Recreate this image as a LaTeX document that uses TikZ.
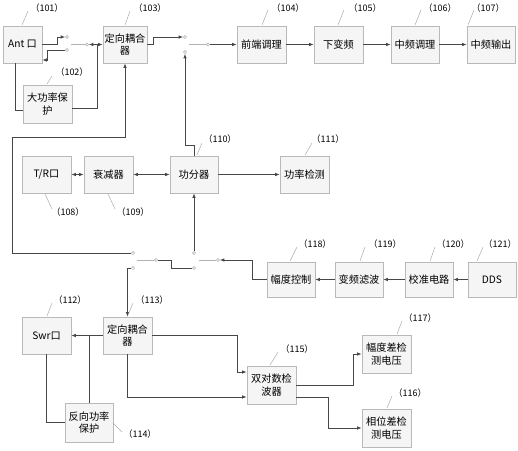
\documentclass[tikz,border=0pt]{standalone}
\usepackage{fontspec}
\newfontfamily\cjk{Noto Sans CJK SC}
\usetikzlibrary{arrows.meta,shadows}
\begin{document}
\begin{tikzpicture}[x=1pt,y=-1pt,
  blk/.style={draw=gray!55, fill=gray!8, line width=0.6pt, inner sep=1pt, align=center,
    font=\cjk\fontsize{10.2}{12.5}\selectfont,
    drop shadow={shadow xshift=1.3pt, shadow yshift=-1.3pt, fill=gray!45, opacity=0.6}},
  wire/.style={draw=black!72, line width=0.75pt},
  arr/.style={-{Latex[length=4.5pt,width=3.5pt]}},
  darr/.style={{Latex[length=4.5pt,width=3.5pt]}-{Latex[length=4.5pt,width=3.5pt]}},
  blade/.style={draw=gray!60, line width=0.5pt},
  contact/.style={circle, draw=gray!70, fill=white, line width=0.5pt, minimum size=3.2pt, inner sep=0pt},
  leader/.style={draw=gray!65, line width=0.5pt},
  lbl/.style={font=\cjk\fontsize{9}{10}\selectfont, inner sep=0pt}
]
\useasboundingbox (0,0) rectangle (518,450);

% ---------- boxes ----------
\node[blk, minimum width=39pt, minimum height=37pt] (ant) at (22.5,44.5) {Ant 口};
\node[blk, minimum width=49pt, minimum height=38pt] (p102) at (47.5,104) {大功率保\\护};
\node[blk, minimum width=44pt, minimum height=37pt] (c103) at (125,44.5) {定向耦合\\器};
\node[blk, minimum width=49pt, minimum height=37pt] (b104) at (261.5,44.5) {前端调理};
\node[blk, minimum width=49pt, minimum height=37pt] (b105) at (338.5,44.5) {下变频};
\node[blk, minimum width=48pt, minimum height=37pt] (b106) at (415,44.5) {中频调理};
\node[blk, minimum width=48pt, minimum height=37pt] (b107) at (491,44.5) {中频输出};

\node[blk, minimum width=49pt, minimum height=37pt] (tr108) at (46.5,174.5) {T/R口};
\node[blk, minimum width=49pt, minimum height=37pt] (b109) at (108.5,174.5) {衰减器};
\node[blk, minimum width=48pt, minimum height=37pt] (b110) at (194,174.5) {功分器};
\node[blk, minimum width=49pt, minimum height=37pt] (b111) at (304.5,174.5) {功率检测};

\node[blk, minimum width=48pt, minimum height=35pt] (b118) at (291,279.5) {幅度控制};
\node[blk, minimum width=48pt, minimum height=35pt] (b119) at (359,279.5) {变频滤波};
\node[blk, minimum width=48pt, minimum height=35pt] (b120) at (429,279.5) {校准电路};
\node[blk, minimum width=48pt, minimum height=35pt] (b121) at (492,279.5) {DDS};

\node[blk, minimum width=49pt, minimum height=37pt] (swr112) at (46.5,335.5) {Swr口};
\node[blk, minimum width=49pt, minimum height=37pt] (c113) at (127.5,335.5) {定向耦合\\器};
\node[blk, minimum width=48pt, minimum height=39pt] (p114) at (89,422.5) {反向功率\\保护};
\node[blk, minimum width=49pt, minimum height=38pt] (b115) at (271.5,385) {双对数检\\波器};
\node[blk, minimum width=49pt, minimum height=38pt] (b117) at (386.5,354) {幅度差检\\测电压};
\node[blk, minimum width=49pt, minimum height=38pt] (b116) at (386.5,428) {相位差检\\测电压};

% ---------- switch contacts ----------
\node[contact] (k1) at (67,37) {};
\node[contact] (k2) at (67,50) {};
\node[contact] (p1) at (87,44.5) {};
\node[contact] (k3) at (185,37) {};
\node[contact] (k4) at (185,52) {};
\node[contact] (p2) at (208,44.5) {};
\node[contact] (k5) at (133,253) {};
\node[contact] (k7) at (133,268) {};
\node[contact] (p3) at (156,260) {};
\node[contact] (k6) at (194,253) {};
\node[contact] (k8) at (194,268) {};
\node[contact] (p4) at (218,260) {};

\coordinate (bl1) at (71,44.5);
\coordinate (bl2) at (189,44.5);
\coordinate (bl3) at (137,260);
\coordinate (bl4) at (199,260);
\draw[blade] (bl1) -- (p1.west);
\draw[blade] (bl2) -- (p2.west);
\draw[blade] (bl3) -- (p3.west);
\draw[blade] (bl4) -- (p4.west);

% ---------- connectors: top ----------
\draw[wire,arr] (ant.east) -- (57,44.5) -- (57,37) -- (k1.west);
\draw[wire,arr] (k2.west) -- (47,50) -- (47,60) -- ([yshift=-15.5pt]ant.east);
\draw[wire,darr] (p1.east) -- (c103.west);
\draw[wire] ([yshift=-4pt]p102.east) -- (97,108) -- (97,44.5);
\draw[wire] ([xshift=-7.5pt]ant.south) |- ([yshift=-6pt]p102.west);
\draw[wire,arr] (c103.east) -- (153,44.5) -- (153,37) -- (k3.west);
\draw[wire,arr] (b110.north) -- (194,145) -- (185,145) -- (k4.south);
\draw[wire,arr] (p2.east) -- (b104.west);
\draw[wire,arr] (b104) -- (b105);
\draw[wire,arr] (b105) -- (b106);
\draw[wire,arr] (b106) -- (b107);

% ---------- connectors: middle ----------
\draw[wire,darr] (tr108) -- (b109);
\draw[wire,darr] (b109) -- (b110);
\draw[wire,arr] (b110) -- (b111);
\draw[wire,arr] (k6.north) -- (b110.south);
\draw[wire,arr] (k5.west) -- (12,253) -- (12,137) -- (125,137) -- (c103.south);
\draw[wire,arr] (k7.west) -- (127.5,268) -- (c113.north);
\draw[wire] (p3.east) -- (171,260) -- (171,268) -- (k8.west);
\draw[wire,arr] (b118.west) -- (252,279.5) -- (252,260) -- (p4.east);
\draw[wire,arr] (b121) -- (b120);
\draw[wire,arr] (b120) -- (b119);
\draw[wire,arr] (b119) -- (b118);

% ---------- connectors: bottom ----------
\draw[wire,arr] (c113.west) -- (swr112.east);
\draw[wire] (p114.north) -- (89,335.5);
\draw[wire] (swr112.south) |- (p114.west);
\draw[wire,arr] (c113.east) -- (237,335.5) -- (237,372) -- ([yshift=13pt]b115.west);
\draw[wire,arr] (c113.south) -- (127.5,397) -- ([yshift=-12pt]b115.west);
\draw[wire,arr] (b115.east) -- (353,385) -- (353,354) -- (b117.west);
\draw[wire,arr] ([yshift=-12pt]b115.east) -- (328,397) -- (328,428) -- (b116.west);

% ---------- reference labels ----------
\draw[leader] (22,25) -- (28,11);   \node[lbl] (l101) at (47,8) {（101）};
\draw[leader] (47,84) -- (52,76);   \node[lbl] (l102) at (72,72) {（102）};
\draw[leader] (125,25) -- (130,11); \node[lbl] (l103) at (150,8) {（103）};
\draw[leader] (262,25) -- (268,10); \node[lbl] (l104) at (288,8) {（104）};
\draw[leader] (338,25) -- (344,10); \node[lbl] (l105) at (365,8) {（105）};
\draw[leader] (415,25) -- (421,10); \node[lbl] (l106) at (440,8) {（106）};
\draw[leader] (468,25) -- (474,10); \node[lbl] (l107) at (488,8) {（107）};
\draw[leader] (45,194) -- (52,209); \node[lbl] (l108) at (68,212) {（108）};
\draw[leader] (108,194) -- (115,209); \node[lbl] (l109) at (133,212) {（109）};
\draw[leader] (197,155) -- (202,143); \node[lbl] (l110) at (220,139) {（110）};
\draw[leader] (305,155) -- (312,143); \node[lbl] (l111) at (328,139) {（111）};
\draw[leader] (290,261) -- (297,247); \node[lbl] (l118) at (315,244) {（118）};
\draw[leader] (360,261) -- (365,247); \node[lbl] (l119) at (385,244) {（119）};
\draw[leader] (430,261) -- (435,247); \node[lbl] (l120) at (453,244) {（120）};
\draw[leader] (477,261) -- (483,247); \node[lbl] (l121) at (500,244) {（121）};
\draw[leader] (47,316) -- (52,303); \node[lbl] (l112) at (70,300) {（112）};
\draw[leader] (128,315) -- (133,303); \node[lbl] (l113) at (152,300) {（113）};
\draw[leader] (113,423) -- (122,432); \node[lbl] (l114) at (140,434) {（114）};
\draw[leader] (270,365) -- (278,352); \node[lbl] (l115) at (297,349) {（115）};
\draw[leader] (397,334) -- (402,321); \node[lbl] (l117) at (420,318) {（117）};
\draw[leader] (387,408) -- (392,396); \node[lbl] (l116) at (410,393) {（116）};
\end{tikzpicture}
\end{document}
